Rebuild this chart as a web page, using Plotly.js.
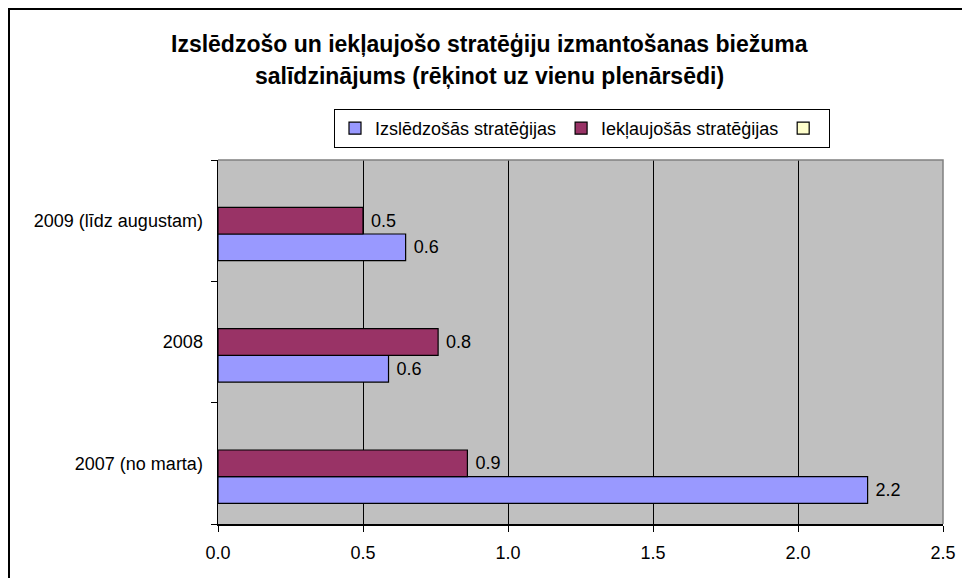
<!DOCTYPE html>
<html>
<head>
<meta charset="utf-8">
<script src="https://cdn.plot.ly/plotly-3.0.1.min.js"></script>
<style>html,body{margin:0;padding:0;background:#fff;overflow:hidden;}#chart{width:962px;height:578px;}</style>
</head>
<body>
<div id="chart"></div>
<script>
// Data
const categories = ['2007 (no marta)', '2008', '2009 (līdz augustam)'];
const seriesNames = ['Izslēdzošās stratēģijas', 'Iekļaujošās stratēģijas', ''];
const izsledzosas = [2.24, 0.588, 0.647];
const ieklaujosas = [0.86, 0.759, 0.5];
const tresaSerija = [null, null, null];
const xTicks = [0, 0.5, 1.0, 1.5, 2.0, 2.5];
const titleLine1 = 'Izslēdzošo un iekļaujošo stratēģiju izmantošanas biežuma';
const titleLine2 = 'salīdzinājums (rēķinot uz vienu plenārsēdi)';

const FONT = 'Liberation Sans, Arial, sans-serif';
const FS = 18;

const L = 218, R = 19, T = 160, B = 54, W = 962, H = 578;
const pw = W - L - R, ph = H - T - B;
const px = v => (v - L) / pw;
const py = v => (H - B - v) / ph;

const barLine = {color: '#000000', width: 1.2};
const labelTpl = '\u00a0%{x:.1f}';
const traces = [
  {type: 'bar', orientation: 'h', name: seriesNames[0], y: categories, x: izsledzosas,
   marker: {color: '#9999FF', line: barLine}, texttemplate: labelTpl, textposition: 'outside',
   textfont: {family: FONT, size: FS, color: '#000'}, cliponaxis: false},
  {type: 'bar', orientation: 'h', name: seriesNames[1], y: categories, x: ieklaujosas,
   marker: {color: '#993366', line: barLine}, texttemplate: labelTpl, textposition: 'outside',
   textfont: {family: FONT, size: FS, color: '#000'}, cliponaxis: false},
  {type: 'bar', orientation: 'h', name: seriesNames[2], y: categories, x: tresaSerija,
   marker: {color: '#FFFFCC', line: barLine}}
];

const bx = px(9), by0 = py(620), by1 = py(9), bx1 = px(1010);
const layout = {
  width: W, height: H,
  margin: {l: L, r: R, t: T, b: B},
  paper_bgcolor: '#ffffff',
  plot_bgcolor: '#C0C0C0',
  font: {family: FONT, size: FS, color: '#000'},
  barmode: 'group', bargap: 0.34, bargroupgap: 0,
  showlegend: true,
  legend: {orientation: 'h', x: px(334), y: py(109), xanchor: 'left', yanchor: 'top',
    bgcolor: '#ffffff', bordercolor: '#000000', borderwidth: 1,
    font: {family: FONT, size: FS, color: '#000'}, itemwidth: 30, traceorder: 'normal'},
  xaxis: {range: [0, 2.5], tickvals: xTicks, tickformat: '.1f', showgrid: true, gridcolor: '#000000', gridwidth: 1,
    zeroline: false, showline: true, linecolor: '#000000', linewidth: 1.5, ticks: 'outside', ticklen: 6,
    tickcolor: '#000', tickfont: {family: FONT, size: FS, color: '#000'}, ticklabelstandoff: 6, fixedrange: true},
  yaxis: {type: 'category', categoryorder: 'array', categoryarray: categories, showgrid: false, zeroline: false,
    showline: true, linecolor: '#000000', linewidth: 1.5, ticks: 'outside', ticklen: 6, tickcolor: '#000',
    tickson: 'boundaries', tickfont: {family: FONT, size: FS, color: '#000'}, ticklabelstandoff: 10, fixedrange: true},
  annotations: [
    {text: '<b>' + titleLine1 + '</b>', xref: 'paper', yref: 'paper', x: px(489), y: py(44),
     xanchor: 'center', yanchor: 'middle', showarrow: false, font: {family: FONT, size: 23, color: '#000'}},
    {text: '<b>' + titleLine2 + '</b>', xref: 'paper', yref: 'paper', x: px(489), y: py(76),
     xanchor: 'center', yanchor: 'middle', showarrow: false, font: {family: FONT, size: 23, color: '#000'}}
  ],
  shapes: [
    {type: 'path', xref: 'paper', yref: 'paper', path: 'M0,1 L1,1 L1,0', line: {color: '#808080', width: 1.5}},
    {type: 'path', xref: 'paper', yref: 'paper',
     path: 'M' + bx + ',' + by0 + ' L' + bx + ',' + by1 + ' L' + bx1 + ',' + by1,
     line: {color: '#000000', width: 2}}
  ]
};

Plotly.newPlot('chart', traces, layout, {staticPlot: true, displayModeBar: false});
</script>
</body>
</html>
